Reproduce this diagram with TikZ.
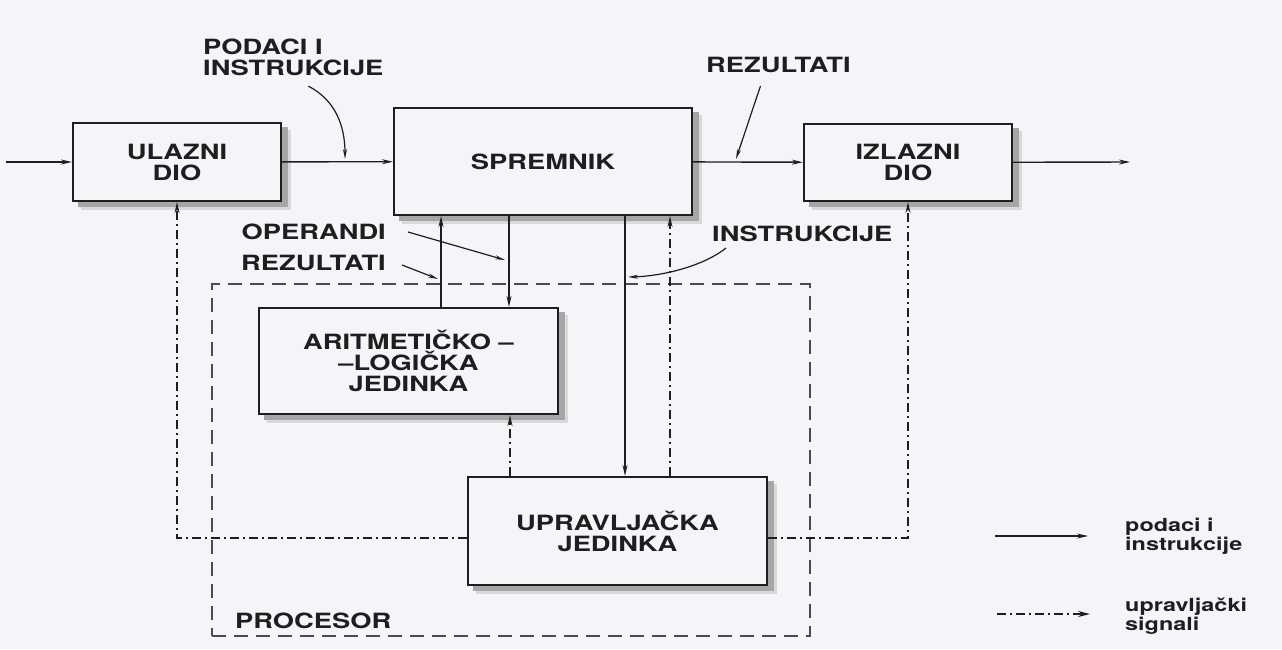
\documentclass[tikz,border=0pt]{standalone}
\usepackage{fontspec}
\setmainfont{TeX Gyre Heros}[FakeStretch=1.3]
\usetikzlibrary{arrows.meta,backgrounds}
\definecolor{paper}{RGB}{243,245,248}
\definecolor{ink}{RGB}{30,30,30}
\pgfdeclarelayer{paperlayer}
\pgfsetlayers{paperlayer,background,main}
\begin{document}
\begin{tikzpicture}[x=1pt,y=-1pt,
    every node/.style={font=\fontsize{21}{21}\selectfont\bfseries,text=ink,inner sep=0pt},
    unit/.style={draw=ink,line width=2.2pt,fill=paper,align=center},
    group/.style={draw=black!70,line width=1.3pt,dash pattern=on 14pt off 8pt},
    tag/.style={align=left},
    legend/.style={font=\fontsize{18}{19}\selectfont\bfseries,align=left},
    datum/.style={draw=ink,line width=1.4pt,-{Stealth[length=11pt,width=5pt]}},
    signal/.style={draw=ink,line width=1.4pt,dash pattern=on 9pt off 4pt on 2pt off 4pt,
      -{Stealth[length=11pt,width=5pt]}},
    pointer/.style={draw=ink,line width=1.2pt,-{Stealth[length=10pt,width=4pt]}}]
  \begin{pgfonlayer}{paperlayer}
    \fill[paper] (0,0) rectangle (1282,649);
  \end{pgfonlayer}
  \draw
    (511,460) node[group,minimum width=598pt,minimum height=352pt] (procesor){}
    (177,162) node[unit,minimum width=208pt,minimum height=78pt] (ulazni){ULAZNI\\DIO}
    (543,161.5) node[unit,minimum width=298pt,minimum height=107pt] (spremnik){SPREMNIK}
    (908,162.5) node[unit,minimum width=208pt,minimum height=77pt] (izlazni){IZLAZNI\\DIO}
    (408.5,361) node[unit,minimum width=299pt,minimum height=106pt] (alu){ARITMETIČKO –\\–LOGIČKA\\JEDINKA}
    (617.5,531) node[unit,minimum width=299pt,minimum height=108pt] (upravljacka){UPRAVLJAČKA\\JEDINKA}
    (235,621) node[anchor=west] (proclabel){PROCESOR}
    (203,57.5) node[tag,anchor=west] (podaci){PODACI I\\INSTRUKCIJE}
    (706,65) node[anchor=west] (rezout){REZULTATI}
    (386,232) node[anchor=east] (operandi){OPERANDI}
    (386,263) node[anchor=east] (rezalu){REZULTATI}
    (712,234) node[anchor=west] (instrukcije){INSTRUKCIJE}
    (1125,536) node[legend,anchor=west] (legdata){podaci i\\instrukcije}
    (1125,616) node[legend,anchor=west] (legsignal){upravljački\\signali};
  \begin{scope}[on background layer]
    \foreach \b in {ulazni,spremnik,izlazni,alu,upravljacka} {
      \fill[black!15] ([shift={(9,8)}]\b.south west) rectangle ([shift={(9,8)}]\b.north east);
      \fill[black!35] ([shift={(6,5)}]\b.south west) rectangle ([shift={(6,5)}]\b.north east);
    }
  \end{scope}
  \coordinate (ulaz) at (6,162);
  \coordinate (izlaz) at (1130,162);
  \coordinate (tpodaci) at (345,159);
  \coordinate (trezout) at (736,159);
  \coordinate (toperandi) at (505,260);
  \coordinate (trezalu) at (438,279);
  \coordinate (tinstr) at (628,277);
  \begin{scope}[datum]
    \draw (ulaz) to (ulazni);
    \draw (ulazni) to (spremnik);
    \draw (spremnik) to (izlazni);
    \draw (izlazni) to (izlaz);
    \draw ([xshift=32.5pt]alu.north) to ([xshift=32.5pt]alu.north |- spremnik.south);
    \draw ([xshift=-34pt]spremnik.south) to ([xshift=-34pt]spremnik.south |- alu.north);
    \draw ([xshift=82pt]spremnik.south) to ([xshift=82pt]spremnik.south |- upravljacka.north);
    \draw ([xshift=-130pt]legdata.west) to ([xshift=-37pt]legdata.west);
  \end{scope}
  \begin{scope}[signal]
    \draw ([xshift=127pt]spremnik.south |- upravljacka.north) to ([xshift=127pt]spremnik.south);
    \draw ([xshift=101.5pt]alu.north |- upravljacka.north) to ([xshift=101.5pt]alu.south);
    \draw ([yshift=-7pt]upravljacka.west) -| (ulazni.south);
    \draw ([yshift=-7pt]upravljacka.east) -| (izlazni.south);
    \draw[-{Stealth[length=12pt,width=6pt]}] ([shift={(-128,-2)}]legsignal.west) to ([shift={(-35,-2)}]legsignal.west);
  \end{scope}
  \begin{scope}[pointer]
    \draw ([shift={(15,10)}]podaci.south) .. controls (335,100) and (345,125) .. (tpodaci);
    \draw ([shift={(-18,13)}]rezout.south) to (trezout);
    \draw ([xshift=22pt]operandi.east) to (toperandi);
    \draw ([shift={(16,2)}]rezalu.east) to (trezalu);
    \draw ([shift={(14,14)}]instrukcije.west) .. controls (705,265) and (665,276) .. (tinstr);
  \end{scope}
\end{tikzpicture}
\end{document}
